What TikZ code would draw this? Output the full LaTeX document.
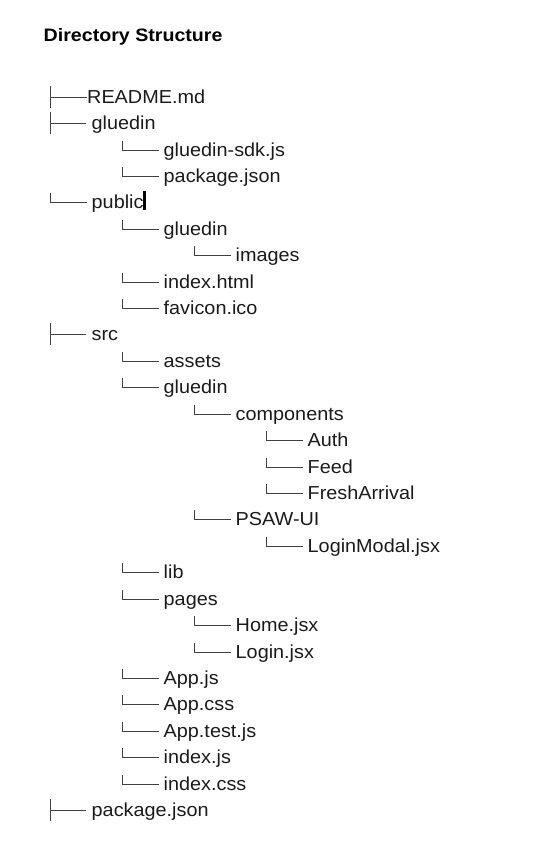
\documentclass[tikz,border=0pt]{standalone}
\usepackage{fontspec}
\usetikzlibrary{calc}
\newfontfamily\bodyf{Liberation Sans}[FakeStretch=1.055]
\newfontfamily\titlef{Liberation Sans}[FakeStretch=1.09]
\definecolor{ink}{HTML}{1A1A1A}
\definecolor{treeline}{HTML}{404040}
\tikzset{
  entry/.style={anchor=base west, inner sep=0pt, text=ink, font=\bodyf\fontsize{18.8bp}{20bp}\selectfont},
  heading/.style={anchor=base west, inner sep=0pt, text=black, font=\titlef\bfseries\fontsize{18bp}{20bp}\selectfont},
  branch/.style={draw=treeline, line width=1.4bp},
}
\begin{document}
\begin{tikzpicture}[x=1bp,y=-1bp]
\useasboundingbox (0,0) rectangle (543,846);
\node[heading] (title) at (43.5,41.7) {Directory Structure};
% first row: README.md, text touching the branch
\node[entry] (r0) at (87,103) {README.md};
\draw[branch] ($(r0.base west)+(-36.5,-17)$) -- ($(r0.base west)+(-36.5,4.5)$);
\draw[branch] ($(r0.base west)+(-36.5,-5.5)$) -- ($(r0.base west)+(0,-5.5)$);
\foreach \i/\l/\k/\t in {
  1/0/T/gluedin,
  2/1/L/gluedin-sdk.js,
  3/1/L/package.json,
  4/0/L/public,
  5/1/L/gluedin,
  6/2/L/images,
  7/1/L/index.html,
  8/1/L/favicon.ico,
  9/0/T/src,
  10/1/L/assets,
  11/1/L/gluedin,
  12/2/L/components,
  13/3/L/Auth,
  14/3/L/Feed,
  15/3/L/FreshArrival,
  16/2/L/PSAW-UI,
  17/3/L/LoginModal.jsx,
  18/1/L/lib,
  19/1/L/pages,
  20/2/L/Home.jsx,
  21/2/L/Login.jsx,
  22/1/L/App.js,
  23/1/L/App.css,
  24/1/L/App.test.js,
  25/1/L/index.js,
  26/1/L/index.css,
  27/0/T/package.json}{
  \pgfmathsetmacro\yb{round(102.7+26.42*\i)}
  \node[entry] (r\i) at ({91.5+72*\l},\yb) {\t};
  \if\k T
    \draw[branch] ($(r\i.base west)+(-41,-17)$) -- ($(r\i.base west)+(-41,4.5)$);
    \draw[branch] ($(r\i.base west)+(-41,-5.5)$) -- ($(r\i.base west)+(-5.5,-5.5)$);
  \else
    \draw[branch] ($(r\i.base west)+(-41,-15)$) -- ($(r\i.base west)+(-41,-5.5)$) -- ($(r\i.base west)+(-5,-5.5)$);
  \fi
}
% text cursor after "public"
\fill[black] ($(r4.base east)+(-0.5,-17)$) rectangle ($(r4.base east)+(2.5,2)$);
\end{tikzpicture}
\end{document}
